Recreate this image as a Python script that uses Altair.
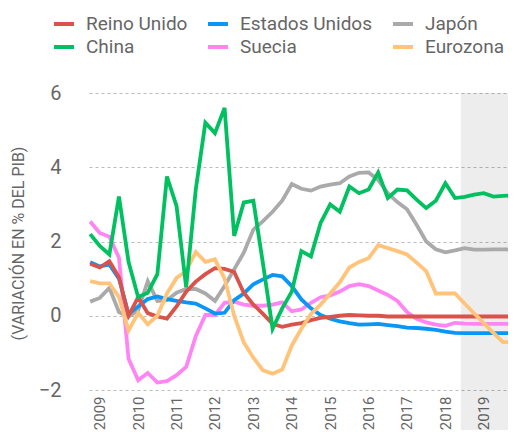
import altair as alt
import pandas as pd

# Quarterly periods: 2008-T4 ... 2019-T4
anios = [2008] + [y for y in range(2009, 2020) for _ in range(4)]
trimestres = [4] + [q for _ in range(2009, 2020) for q in (1, 2, 3, 4)]

series = ["Reino Unido", "Estados Unidos", "Japón", "China", "Suecia", "Eurozona"]
colores = ["#d9534a", "#0a96f7", "#aaaaaa", "#00c060", "#ff85f5", "#ffc47a"]

reino_unido = [1.40, 1.30, 1.47, 1.04, 0.00, 0.50, 0.07, -0.02, -0.08, 0.25, 0.65, 0.92,
               1.12, 1.28, 1.26, 1.18, 0.62, 0.30, 0.05, -0.22, -0.30, -0.24, -0.20, -0.12,
               -0.06, -0.03, 0.00, 0.02, 0.01, 0.00, 0.00, -0.02, -0.02, -0.02, -0.02, -0.02,
               -0.02, -0.02, -0.02, -0.02, -0.02, -0.02, -0.02, -0.02, -0.02]
estados_unidos = [1.44, 1.33, 1.38, 1.00, 0.05, 0.25, 0.45, 0.52, 0.45, 0.40, 0.36, 0.33,
                  0.20, 0.06, 0.08, 0.42, 0.60, 0.85, 0.98, 1.10, 1.06, 0.80, 0.44, 0.20,
                  0.02, -0.08, -0.15, -0.20, -0.24, -0.23, -0.22, -0.25, -0.28, -0.32, -0.33, -0.35,
                  -0.38, -0.43, -0.46, -0.47, -0.47, -0.47, -0.47, -0.47, -0.47]
japon = [0.38, 0.48, 0.75, 0.10, -0.02, 0.15, 0.93, 0.40, 0.42, 0.62, 0.72, 0.72,
         0.60, 0.40, 0.80, 1.25, 1.70, 2.32, 2.55, 2.80, 3.10, 3.55, 3.42, 3.37,
         3.48, 3.53, 3.57, 3.75, 3.85, 3.86, 3.66, 3.30, 3.06, 2.87, 2.45, 2.00,
         1.79, 1.71, 1.76, 1.82, 1.78, 1.78, 1.79, 1.79, 1.79]
china = [2.20, 1.88, 1.65, 3.21, 1.45, 0.50, 0.62, 1.12, 3.75, 2.95, 0.77, 3.40,
         5.20, 4.92, 5.60, 2.15, 3.05, 3.10, 1.40, -0.35, 0.20, 0.65, 1.74, 1.60,
         2.50, 3.00, 2.80, 3.48, 3.30, 3.40, 3.86, 3.17, 3.40, 3.38, 3.13, 2.90,
         3.10, 3.57, 3.17, 3.20, 3.26, 3.30, 3.21, 3.23, 3.24]
suecia = [2.54, 2.23, 2.13, 1.56, -1.16, -1.74, -1.54, -1.80, -1.76, -1.60, -1.38, -0.55,
          0.02, 0.02, 0.35, 0.38, 0.30, 0.27, 0.27, 0.30, 0.36, 0.12, 0.17, 0.35,
          0.50, 0.55, 0.65, 0.80, 0.85, 0.80, 0.68, 0.56, 0.40, 0.10, -0.08, -0.18,
          -0.24, -0.27, -0.19, -0.21, -0.22, -0.22, -0.22, -0.22, -0.22]
eurozona = [0.93, 0.87, 0.87, 0.50, -0.40, 0.08, -0.23, 0.00, 0.60, 1.02, 1.20, 1.72,
            1.45, 1.52, 1.00, 0.00, -0.72, -1.13, -1.47, -1.56, -1.45, -0.80, -0.35, 0.05,
            0.30, 0.60, 0.90, 1.30, 1.45, 1.55, 1.90, 1.82, 1.74, 1.65, 1.43, 1.20,
            0.60, 0.60, 0.60, 0.33, 0.06, -0.20, -0.46, -0.71, -0.71]

valores = {
    "Reino Unido": reino_unido,
    "Estados Unidos": estados_unidos,
    "Japón": japon,
    "China": china,
    "Suecia": suecia,
    "Eurozona": eurozona,
}
orden_dibujo = ["Suecia", "Japón", "Estados Unidos", "Reino Unido", "Eurozona", "China"]

tiempo = [a + (q - 1) / 4 for a, q in zip(anios, trimestres)]
filas = []
for nombre in orden_dibujo:
    for t, v in zip(tiempo, valores[nombre]):
        filas.append({"t": t, "valor": v, "serie": nombre})
df = pd.DataFrame(filas)

inicio_proyeccion = 2018.4
fin_sombra = 2020.0
dominio_x = [2008.72, 2019.63]
anios_eje = list(range(2009, 2020))

x_scale = alt.Scale(domain=dominio_x, nice=False, zero=False)
y_scale = alt.Scale(domain=[-2, 6], nice=False, zero=False)

eje_x = alt.Axis(values=anios_eje, format="d", labelAngle=270, labelFontSize=15,
                 labelColor="#666666", domain=False, ticks=False, grid=False,
                 labelPadding=6, labelFont="Roboto", labelOverlap=False, labelBound=False,
                 labelFlush=False)

sombra = alt.Chart(pd.DataFrame({"t": [inicio_proyeccion], "t2": [fin_sombra]})).mark_rect(
    color="#000000", opacity=0.07
).encode(
    x=alt.X("t:Q", scale=x_scale, title=None, axis=eje_x),
    x2="t2:Q",
    y=alt.value(0),
    y2=alt.value(337),
)

lineas = alt.Chart(df).mark_line(strokeWidth=3.8).encode(
    x=alt.X("t:Q", scale=x_scale, title=None, axis=eje_x),
    y=alt.Y("valor:Q", scale=y_scale, title="(VARIACIÓN EN % DEL PIB)",
            axis=alt.Axis(values=[-2, 0, 2, 4, 6], grid=True, gridDash=[3, 3], gridColor="#bbbbbb",
                          domain=False, ticks=False, labelFontSize=20, labelColor="#666666",
                          labelPadding=28, labelFont="Roboto", titleFont="Roboto",
                          titleFontSize=16, titleColor="#666666", titleFontWeight="normal",
                          titleX=-71, titleY=150, titleAngle=270, titleAlign="center",
                          titleBaseline="middle")),
    color=alt.Color("serie:N", scale=alt.Scale(domain=series, range=colores),
                    legend=alt.Legend(orient="none", legendX=-37, legendY=-81, columns=3,
                                      direction="horizontal", symbolType="stroke",
                                      symbolSize=400, symbolStrokeWidth=4, labelFontSize=19,
                                      labelColor="#666666", labelOffset=10, columnPadding=12,
                                      rowPadding=1, title=None, labelFont="Roboto")),
)

chart = alt.layer(sombra, lineas).properties(
    width=419, height=297,
    autosize=alt.AutoSizeParams(type="none"),
    padding={"left": 81, "top": 85, "right": 0, "bottom": 40},
).configure_view(stroke=None)

chart.save("out.html", embed_options={"renderer": "svg", "actions": False})
